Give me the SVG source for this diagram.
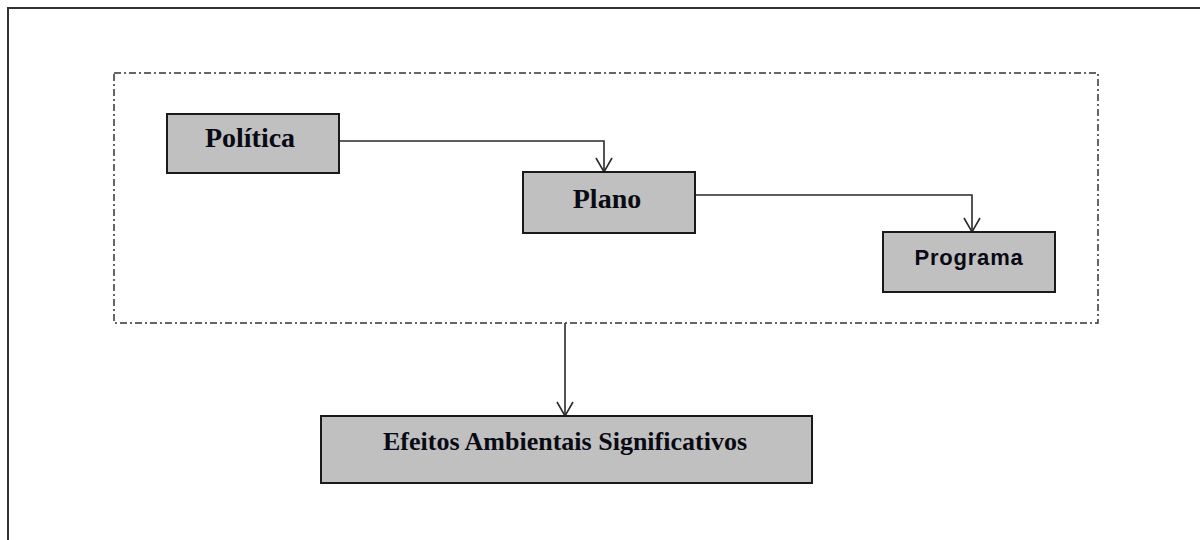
<svg xmlns="http://www.w3.org/2000/svg" width="1200" height="540" viewBox="0 0 1200 540">
  <style>
    .node rect { fill: #c0c0c0; stroke: #1a1a1a; stroke-width: 2; }
    .serif { font-family: "Liberation Serif", "Times New Roman", serif; font-weight: bold; fill: #0a0a14; text-anchor: middle; }
    .sans { font-family: "Liberation Sans", Arial, sans-serif; font-weight: bold; fill: #0a0a14; text-anchor: middle; }
    .conn { fill: none; stroke: #2a2a2a; stroke-width: 1.6; }
  </style>
  <defs>
    <marker id="arrow" markerUnits="userSpaceOnUse" viewBox="-16 -10 18 20" markerWidth="18" markerHeight="20" refX="0" refY="0" orient="auto">
      <path d="M-14,-8 L0,0 L-14,8" fill="none" stroke="#2a2a2a" stroke-width="1.6"/>
    </marker>
  </defs>
  <rect x="0" y="0" width="1200" height="540" fill="#ffffff"/>
  <rect id="frame" x="8" y="8" width="1200" height="540" fill="none" stroke="#333333" stroke-width="2"/>
  <rect id="group-box" x="114" y="73" width="984" height="250" fill="none" stroke="#333333" stroke-width="1.5" stroke-dasharray="7 3 2 3"/>

  <g id="connectors">
    <path class="conn" d="M339,141 H604 V172" marker-end="url(#arrow)"/>
    <path class="conn" d="M695,195 H972 V232" marker-end="url(#arrow)"/>
    <path class="conn" d="M565,323 V416" marker-end="url(#arrow)"/>
  </g>

  <g id="politica" class="node">
    <rect x="167" y="114" width="172" height="59"/>
    <text class="serif" x="250" y="147" font-size="28">Política</text>
  </g>
  <g id="plano" class="node">
    <rect x="523" y="172" width="172" height="61"/>
    <text class="serif" x="607" y="208" font-size="28">Plano</text>
  </g>
  <g id="programa" class="node">
    <rect x="883" y="232" width="172" height="60"/>
    <text class="sans" x="969" y="265" font-size="22" letter-spacing="0.8">Programa</text>
  </g>
  <g id="efeitos" class="node">
    <rect x="321" y="416" width="491" height="67"/>
    <text class="serif" x="565" y="450" font-size="26">Efeitos Ambientais Significativos</text>
  </g>
</svg>
